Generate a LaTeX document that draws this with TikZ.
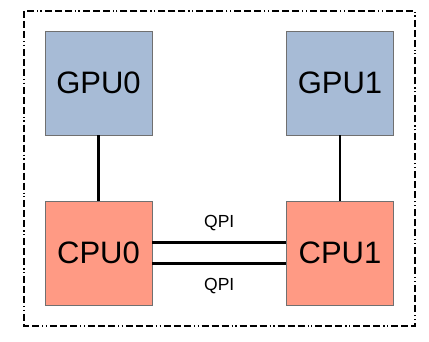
\documentclass[tikz,border=0pt]{standalone}
\usepackage{fontspec}
\setmainfont{Liberation Sans}
\definecolor{gpufill}{HTML}{A7BBD6}
\definecolor{cpufill}{HTML}{FF9A84}
\definecolor{boxline}{HTML}{707070}
\tikzset{
  chip/.style={draw=boxline,line width=0.8pt,minimum width=107pt,minimum height=104pt,
    inner sep=0pt,font=\fontsize{31}{36}\selectfont},
  gpubox/.style={chip,fill=gpufill},
  cpubox/.style={chip,fill=cpufill},
  link/.style={line width=2.6pt},
  qpilabel/.style={font=\fontsize{17.5}{20}\selectfont},
}
\begin{document}
\begin{tikzpicture}[x=1pt,y=-1pt,line cap=butt,line join=miter]
\useasboundingbox[fill=white] (0,0) rectangle (429,342);
\draw[line width=1.3pt,dash pattern=on 7pt off 3pt on 7pt off 3pt on 7pt off 3pt on 1.2pt off 2.5pt on 1.2pt off 3pt]
  (24,11) rectangle (415,326);
\node[gpubox] (gpu0) at (98.5,83) {GPU0};
\node[gpubox] (gpu1) at (340,83) {GPU1};
\node[cpubox] (cpu0) at (98.5,253) {CPU0};
\node[cpubox] (cpu1) at (340,253) {CPU1};
\foreach \n in {0,1} {\draw[link] (gpu\n.south) -- (cpu\n.north);}
\draw[link] ([yshift=10.5pt]cpu0.east) -- node[qpilabel,above=7pt] (qpiup) {QPI} ([yshift=10.5pt]cpu1.west);
\draw[link] ([yshift=-10.5pt]cpu0.east) -- node[qpilabel,below=10pt] (qpidown) {QPI} ([yshift=-10.5pt]cpu1.west);
\end{tikzpicture}
\end{document}
